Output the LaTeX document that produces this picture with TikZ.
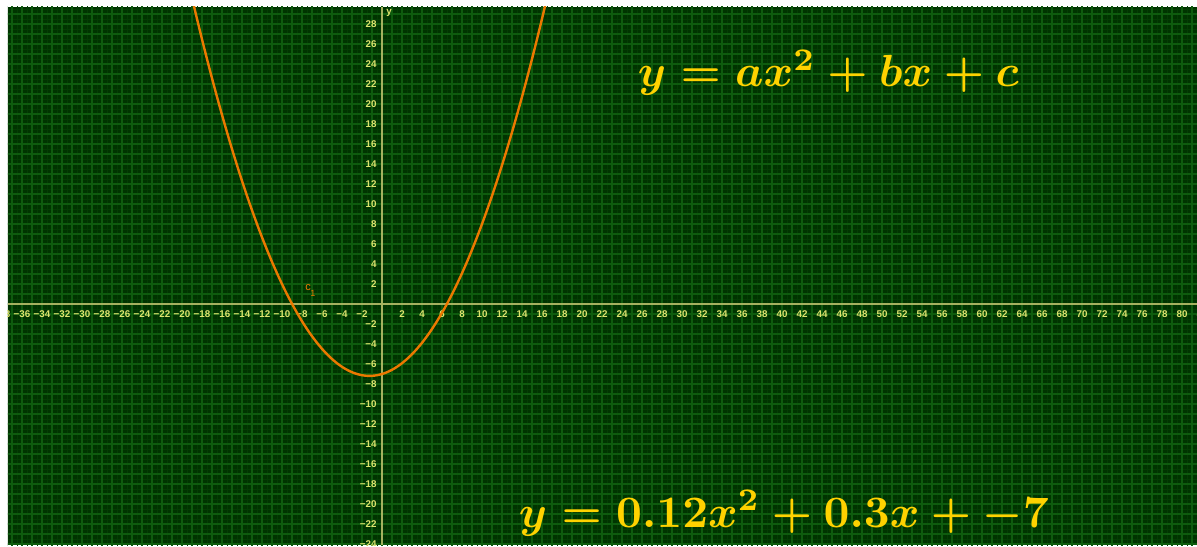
\documentclass[tikz,border=0pt]{standalone}
\usepackage[no-math]{fontspec}
\newfontfamily\labelfont{Liberation Sans}
\definecolor{bggreen}{RGB}{0,52,0}
\definecolor{minorg}{RGB}{4,62,4}
\definecolor{majorg}{RGB}{14,92,14}
\definecolor{axiscol}{RGB}{165,178,95}
\definecolor{ticklab}{RGB}{222,228,110}
\definecolor{curvecol}{RGB}{235,120,0}
\definecolor{formcol}{RGB}{255,210,0}
\tikzset{
  minorgrid/.style={minorg, line width=0.3pt},
  majorgrid/.style={majorg, line width=0.55pt},
  axisline/.style={axiscol, line width=1pt},
  ticklabel/.style={text=ticklab, font=\labelfont\bfseries\fontsize{4.9pt}{5pt}\selectfont, inner sep=0pt},
  curveline/.style={curvecol, line width=1.2pt},
  formula/.style={text=formcol, font=\boldmath, scale=2.25, inner sep=0pt},
  clabel/.style={text=curvecol, font=\labelfont\fontsize{5.5pt}{6pt}\selectfont, inner sep=0pt},
}
\begin{document}
\begin{tikzpicture}[x=5pt,y=5pt]
\useasboundingbox (-38.2,-24.2) rectangle (81.5,30.4);
\fill[white] (-38.2,-24.2) rectangle (81.5,30.4);
\fill[bggreen] (-37.4,-24.1) rectangle (81.5,29.7);
\begin{scope}
\clip (-37.4,-24.1) rectangle (81.5,29.7);
\draw[minorgrid] (-38,-25) grid[step=0.5] (82,30);
\draw[majorgrid] (-38,-25) grid[step=1] (82,30);
\coordinate (xl) at (-37.4,0);
\coordinate (xr) at (81.5,0);
\coordinate (yb) at (0,-24.1);
\coordinate (yt) at (0,29.7);
\draw[axisline] (xl) -- (xr);
\draw[axisline] (yb) -- (yt);
\foreach \v in {-38,-36,...,82}{
  \ifnum\v=0\else
    \pgfmathtruncatemacro\a{abs(\v)}
    \node[ticklabel] (tx\a\ifnum\v<0 n\fi) at (\v,-1.0) {\ifnum\v<0 −\a\else\v\fi};
  \fi
}
\foreach \v in {-24,-22,...,28}{
  \ifnum\v=0\else
    \pgfmathtruncatemacro\a{abs(\v)}
    \node[ticklabel, anchor=east] (ty\a\ifnum\v<0 n\fi) at (-0.5,\v) {\ifnum\v<0 −\a\else\v\fi};
  \fi
}
\node[ticklabel] (ylab) at (0.7,29.1) {y};
\draw[curveline] plot[domain=-19.2:16.6, samples=160, smooth] (\x,{0.12*\x*\x+0.3*\x-7});
\node[clabel] (c1) at (-7.4,1.6) {c};
\node[clabel, font=\labelfont\fontsize{4.5pt}{5pt}\selectfont] (c1s) at (-6.9,1.1) {1};
\end{scope}
\node[formula, anchor=base west] (f1) at (25.5,21.7) {$y=ax^2+bx+c$};
\node[formula, anchor=base west] (f2) at (13.6,-22.3) {$y=0.12x^2+0.3x+-7$};
\end{tikzpicture}
\end{document}
